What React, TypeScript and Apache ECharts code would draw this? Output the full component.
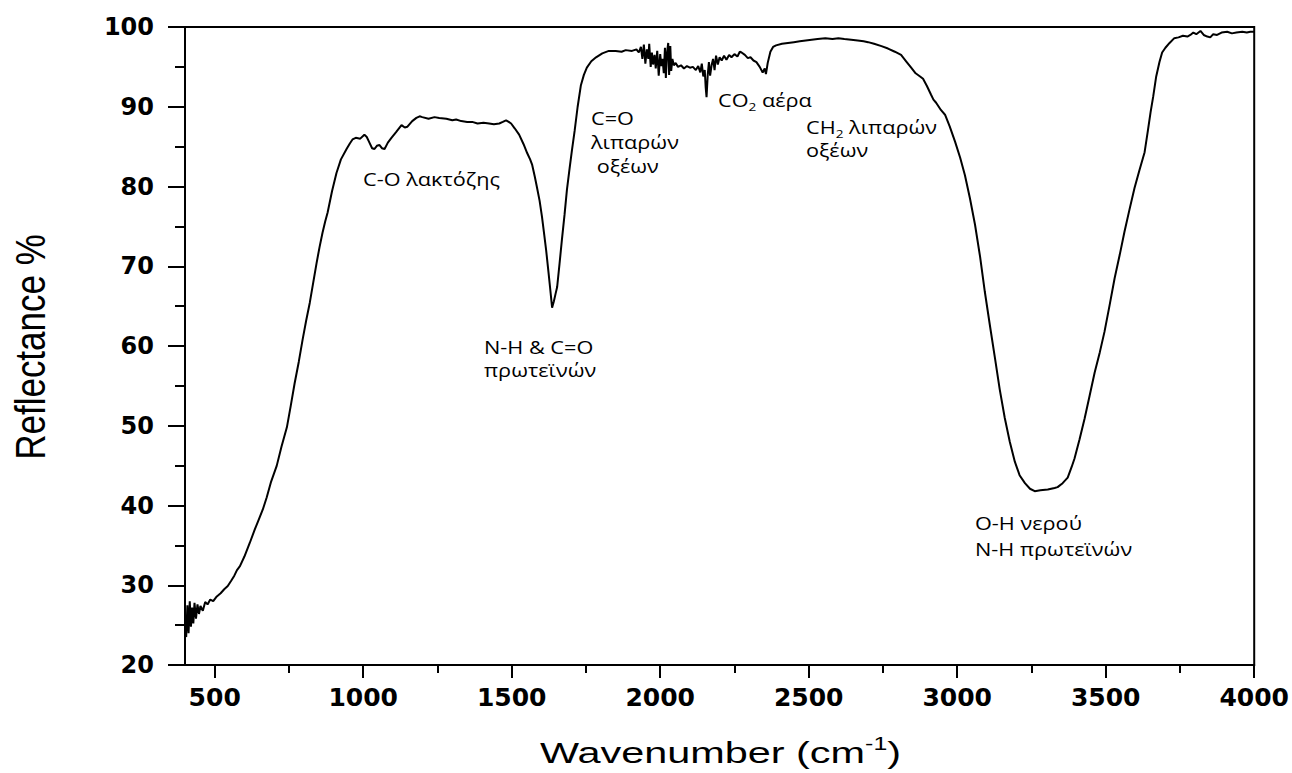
import { useEffect, useRef } from "react";
import * as echarts from "echarts";

// FTIR reflectance spectrum (wavenumber in cm^-1, reflectance in %)
const wavenumber = [
  400, 404, 408, 412, 416, 420, 424, 428, 432, 437, 442, 447, 452, 460, 468, 476, 485, 495,
  507, 520, 532, 544, 556, 566, 575, 585, 600, 618, 635, 648, 662, 675, 690, 709, 725, 743,
  756, 769, 783, 796, 808, 820, 832, 843, 853, 863, 872, 880, 895, 910, 925, 944, 955, 964,
  975, 990, 1004, 1012, 1021, 1030, 1038, 1046, 1055, 1063, 1072, 1083, 1095, 1110, 1129,
  1140, 1149, 1165, 1179, 1190, 1199, 1220, 1240, 1256, 1280, 1300, 1313, 1330, 1350, 1367,
  1385, 1405, 1424, 1440, 1458, 1470, 1481, 1490, 1498, 1510, 1525, 1540, 1552, 1562, 1569,
  1578, 1585, 1594, 1602, 1610, 1616, 1624, 1629, 1636, 1642, 1648, 1653, 1661, 1669, 1678,
  1686, 1695, 1703, 1712, 1722, 1733, 1743, 1753, 1768, 1784, 1805, 1827, 1850, 1870, 1884,
  1905, 1920, 1928, 1935, 1940, 1945, 1950, 1955, 1960, 1963, 1968, 1972, 1976, 1981, 1985,
  1990, 1995, 2000, 2004, 2008, 2012, 2016, 2019, 2023, 2027, 2030, 2034, 2037, 2041, 2046,
  2052, 2060, 2070, 2080, 2090, 2100, 2110, 2120, 2128, 2135, 2140, 2145, 2150, 2153, 2156,
  2160, 2164, 2168, 2173, 2178, 2183, 2188, 2194, 2200, 2207, 2215, 2223, 2232, 2240, 2250,
  2260, 2268, 2274, 2285, 2295, 2304, 2314, 2324, 2335, 2345, 2352, 2356, 2362, 2371, 2380,
  2390, 2410, 2430, 2450, 2470, 2490, 2510, 2530, 2556, 2580, 2600, 2620, 2643, 2665, 2685,
  2700, 2720, 2745, 2767, 2790, 2811, 2828, 2845, 2860, 2875, 2885, 2898, 2912, 2920, 2929,
  2945, 2959, 2975, 2993, 3010, 3026, 3043, 3060, 3077, 3093, 3110, 3127, 3143, 3160, 3177,
  3194, 3210, 3228, 3245, 3261, 3280, 3305, 3328, 3338, 3355, 3372, 3385, 3395, 3412, 3429,
  3446, 3463, 3480, 3496, 3513, 3530, 3547, 3563, 3580, 3597, 3614, 3631, 3642, 3651, 3660,
  3670, 3681, 3690, 3701, 3715, 3731, 3745, 3760, 3775, 3785, 3795, 3805, 3819, 3830, 3842,
  3852, 3862, 3875, 3890, 3909, 3925, 3940, 3960, 3975, 3987, 4000,
];

const reflectance = [
  25.5, 23.5, 27.5, 24.0, 28.0, 24.8, 27.2, 25.2, 27.8, 25.8, 27.6, 26.4, 27.4, 26.8, 27.9, 27.6, 28.2, 28.0,
  28.6, 29.0, 29.5, 29.9, 30.6, 31.2, 31.9, 32.4, 33.6, 35.3, 37.0, 38.2, 39.5, 41.0, 43.0, 45.0, 47.4, 49.8,
  52.5, 55.3, 58.0, 60.8, 63.2, 65.4, 68.0, 70.4, 72.4, 74.2, 75.6, 76.7, 79.4, 81.7, 83.4, 84.7, 85.4, 85.9,
  86.1, 86.0, 86.5, 86.2, 85.5, 84.8, 84.7, 85.1, 85.2, 84.8, 84.7, 85.5, 86.1, 86.8, 87.7,
  87.4, 87.5, 88.2, 88.6, 88.8, 88.7, 88.5, 88.7, 88.6, 88.5, 88.3, 88.4, 88.2, 88.1, 88.1,
  87.9, 88.0, 87.9, 87.8, 87.9, 88.1, 88.3, 88.1, 87.9, 87.3, 86.5, 85.3, 84.2, 83.4, 82.7,
  81.2, 79.9, 78.2, 76.2, 73.8, 72.0, 69.2, 67.4, 64.8, 65.6, 66.6, 67.4, 70.3, 73.3, 76.5,
  79.6, 82.3, 84.6, 87.0, 90.0, 92.7, 94.0, 94.9, 95.7, 96.2, 96.7, 97.0, 97.0, 96.9, 97.1,
  97.0, 97.2, 96.8, 97.5, 96.0, 97.8, 95.4, 97.2, 96.0, 97.9, 95.0, 96.8, 95.3, 96.5, 94.8,
  97.0, 93.9, 96.6, 95.1, 96.0, 94.2, 97.4, 93.6, 96.8, 98.0, 94.0, 97.6, 94.5, 96.0, 95.2,
  95.5, 95.0, 95.2, 94.8, 95.1, 94.9, 95.0, 94.6, 95.1, 94.3, 95.4, 93.8, 94.6, 92.5, 91.2,
  94.0, 95.6, 93.9, 95.2, 96.0, 94.6, 96.4, 95.3, 96.2, 95.8, 96.4, 95.9, 96.5, 96.2, 96.6,
  96.3, 96.9, 96.8, 96.5, 96.1, 96.2, 95.8, 95.6, 95.0, 94.3, 94.8, 94.1, 95.5, 96.9, 97.5,
  97.7, 97.9, 98.0, 98.1, 98.2, 98.3, 98.4, 98.5, 98.6, 98.5, 98.6, 98.5, 98.4, 98.3, 98.2,
  98.1, 97.9, 97.6, 97.3, 96.9, 96.5, 95.7, 94.9, 94.2, 93.8, 93.5, 92.6, 91.5, 90.9, 90.5,
  89.6, 89.0, 87.5, 85.6, 83.6, 81.4, 78.5, 75.2, 71.2, 66.8, 62.6, 58.5, 54.6, 51.0, 48.0,
  45.5, 43.8, 42.8, 42.1, 41.8, 41.9, 42.0, 42.2, 42.3, 42.8, 43.5, 44.8, 45.9, 48.3, 50.9,
  53.8, 56.7, 59.2, 61.8, 65.1, 68.5, 71.4, 74.3, 77.1, 79.8, 82.1, 84.3, 87.0, 89.3, 91.3,
  93.8, 95.6, 96.8, 97.4, 98.0, 98.6, 98.7, 98.9, 98.8, 99.0, 99.3, 99.1, 99.5, 99.0, 98.8,
  98.7, 99.1, 99.0, 99.3, 99.4, 99.2, 99.3, 99.4, 99.3, 99.4, 99.4,
];

const xMajorTicks = [500, 1000, 1500, 2000, 2500, 3000, 3500, 4000];
const xMinorTicks = [750, 1250, 1750, 2250, 2750, 3250, 3750];

const X_MIN = 400;
const X_MAX = 4000;
const Y_MIN = 20;
const Y_MAX = 100;
const Y_STEP = 10;

const NOTE_FONT = "'Open Sans', 'Noto Sans', sans-serif";
const NOTE_SIZE = 17.5;
const NOTE_STRETCH = 1.24;

const noteStyles = {
  m: { fontFamily: NOTE_FONT, fontSize: NOTE_SIZE, lineHeight: 24, fill: "#000", verticalAlign: "middle" },
  s: { fontFamily: NOTE_FONT, fontSize: 11, lineHeight: 12, fill: "#000", verticalAlign: "bottom" },
};

function note(text: string, x: number, y: number) {
  return {
    type: "text",
    x,
    y,
    scaleX: NOTE_STRETCH,
    silent: true,
    style: {
      text,
      rich: noteStyles,
      fill: "#000",
      fontFamily: NOTE_FONT,
      fontSize: NOTE_SIZE,
      align: "left",
      textAlign: "left",
      verticalAlign: "middle",
      textVerticalAlign: "middle",
    },
  };
}

export default function App() {
  const ref = useRef<HTMLDivElement>(null);

  useEffect(() => {
    document.body.style.margin = "0";
    document.body.style.overflow = "hidden";
    const chart = echarts.init(ref.current!, null, { renderer: "svg", width: 1292, height: 773 });
    const data = wavenumber.map((w, i) => [w, reflectance[i]]);

    const tickLabelFont = { fontFamily: "'DejaVu Sans', sans-serif", fontWeight: "bold" as const, color: "#000" };

    chart.setOption({
      animation: false,
      backgroundColor: "#fff",
      grid: {
        left: 185,
        right: 35,
        top: 27,
        bottom: 108,
        show: true,
        borderColor: "#000",
        borderWidth: 2,
        backgroundColor: "transparent",
      },
      xAxis: [
        {
          type: "value",
          min: X_MIN,
          max: X_MAX,
          position: "bottom",
          axisLine: { show: true, onZero: false, lineStyle: { color: "#000", width: 2 } },
          axisTick: {
            show: true,
            inside: false,
            length: 13,
            customValues: xMajorTicks,
            lineStyle: { color: "#000", width: 2 },
          },
          axisLabel: {
            ...tickLabelFont,
            fontSize: 25,
            margin: 20,
            customValues: xMajorTicks,
            formatter: (v: number) => String(v),
          },
          splitLine: { show: false },
        },
        {
          type: "value",
          min: X_MIN,
          max: X_MAX,
          position: "bottom",
          axisLine: { show: false, onZero: false },
          axisTick: {
            show: true,
            inside: false,
            length: 8,
            customValues: xMinorTicks,
            lineStyle: { color: "#000", width: 2 },
          },
          axisLabel: { show: false },
          splitLine: { show: false },
        },
      ],
      yAxis: {
        type: "value",
        min: Y_MIN,
        max: Y_MAX,
        interval: Y_STEP,
        axisLine: { show: true, onZero: false, lineStyle: { color: "#000", width: 2 } },
        axisTick: { show: true, inside: false, length: 17, lineStyle: { color: "#000", width: 2 } },
        minorTick: { show: true, splitNumber: 2, length: 10, lineStyle: { color: "#000", width: 2 } },
        axisLabel: { ...tickLabelFont, fontSize: 24, margin: 31, formatter: (v: number) => String(v) },
        splitLine: { show: false },
        minorSplitLine: { show: false },
      },
      series: [
        {
          type: "line",
          xAxisIndex: 0,
          yAxisIndex: 0,
          data,
          showSymbol: false,
          symbol: "none",
          smooth: false,
          lineStyle: { color: "#000", width: 2 },
          silent: true,
        },
      ],
      graphic: [
        {
          type: "text",
          x: 540,
          y: 753,
          scaleX: 1.38,
          silent: true,
          style: {
            text: "{m|Wavenumber (cm}{p|-1}{m|)}",
            align: "left",
            textAlign: "left",
            verticalAlign: "middle",
            textVerticalAlign: "middle",
            fill: "#000",
            rich: {
              m: { fontFamily: "'Liberation Sans', Arial, sans-serif", fontSize: 30, lineHeight: 36, fill: "#000", verticalAlign: "middle" },
              p: { fontFamily: "'Liberation Sans', Arial, sans-serif", fontSize: 18, lineHeight: 18, fill: "#000", verticalAlign: "top" },
            },
          },
        },
        {
          type: "text",
          x: 30,
          y: 347,
          rotation: Math.PI / 2,
          scaleY: 1.2,
          silent: true,
          style: {
            text: "Reflectance %",
            fontFamily: "'Liberation Sans', Arial, sans-serif",
            fontSize: 35,
            fill: "#000",
            align: "center",
            textAlign: "center",
            verticalAlign: "middle",
            textVerticalAlign: "middle",
          },
        },
        note("{m|C-O λακτόζης}", 363, 179),
        note("{m|N-H & C=O}", 484, 347),
        note("{m|πρωτεϊνών}", 484, 370),
        note("{m|C=O}", 591, 118),
        note("{m|λιπαρών}", 591, 142),
        note("{m| οξέων}", 591, 166),
        note("{m|CO}{s|2}{m| αέρα}", 718, 100),
        note("{m|CH}{s|2}{m| λιπαρών}", 806, 127),
        note("{m|οξέων}", 806, 150),
        note("{m|O-H νερού}", 975, 523),
        note("{m|N-H πρωτεϊνών}", 975, 549),
      ],
    });

    return () => chart.dispose();
  }, []);

  return (
    <div
      ref={ref}
      style={{ position: "fixed", left: 0, top: 0, width: 1292, height: 773, background: "#fff" }}
    />
  );
}
